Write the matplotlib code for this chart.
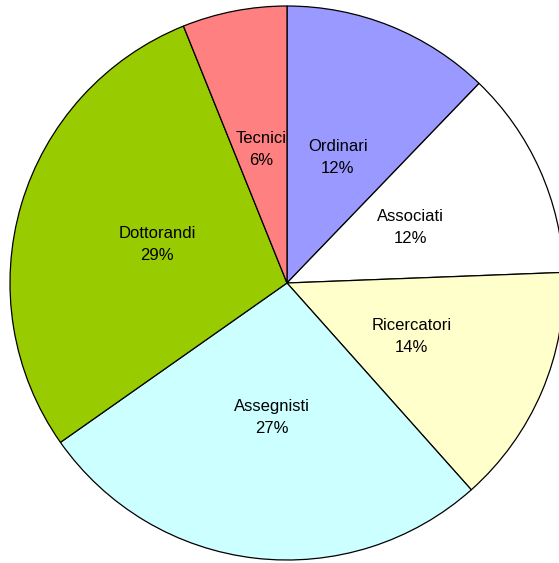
import matplotlib
matplotlib.use('Agg')
import matplotlib.pyplot as plt

# categorie e valori (conteggi stimati dalla figura)
labels = ['Ordinari', 'Associati', 'Ricercatori', 'Assegnisti', 'Dottorandi', 'Tecnici']
values = [20, 20, 23, 44, 47, 10]
colors = ['#9999FF', '#FFFFFF', '#FFFFCC', '#CCFFFF', '#99CC00', '#FF8080']

plt.rcParams['font.family'] = ['Liberation Sans', 'DejaVu Sans']

W, H = 559, 563
fig = plt.figure(figsize=(W / 100, H / 100), dpi=100)
fig.patch.set_facecolor('white')

cx, cy, r = 287, 283, 277
ax = fig.add_axes([(cx - r) / W, (H - cy - r) / H, 2 * r / W, 2 * r / H])

total = sum(values)
texts = [f'{l}\n{round(v / total * 100):d}%' for l, v in zip(labels, values)]

wedges, txts = ax.pie(
    values,
    labels=texts,
    colors=colors,
    startangle=90,
    counterclock=False,
    labeldistance=0.49,
    radius=1,
    wedgeprops=dict(edgecolor='black', linewidth=0.9),
    textprops=dict(fontsize=12, color='black', ha='center', va='center',
                   multialignment='center', linespacing=1.6),
)
ax.set_xlim(-1, 1)
ax.set_ylim(-1, 1)
ax.set_aspect('auto')
ax.axis('off')

fig.savefig('out.png', dpi=100)
